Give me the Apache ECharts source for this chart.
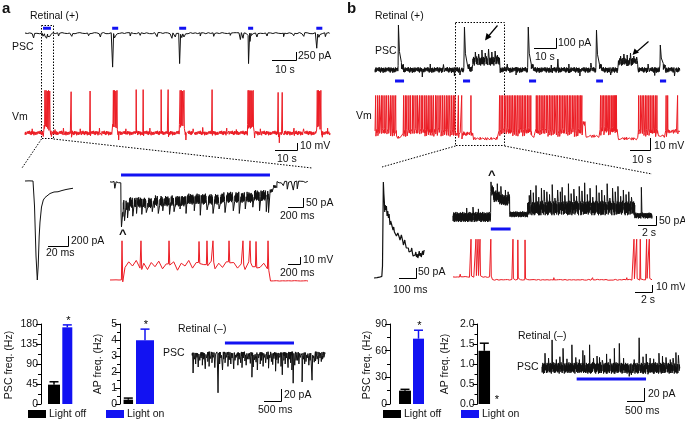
<!DOCTYPE html>
<html><head><meta charset="utf-8">
<script src="https://cdn.jsdelivr.net/npm/echarts@6/dist/echarts.min.js"></script>
<style>html,body{margin:0;padding:0;background:#fff}#c{width:685px;height:421px}</style>
</head><body><div id="c"></div><script>
// ---------------- DATA ----------------
// bar charts (Hz): [Light off, Light on]
const barCats = ['Light off', 'Light on'];
const pscFreqA = [43.5, 172.5], pscSemA = [6.5, 5.5];
const apFreqA = [0.27, 3.98], apSemA = [0.1, 0.7];
const pscFreqB = [15, 73.5], pscSemB = [1.5, 9.5];
const apFreqB = [1.33, 0], apSemB = [0.19, 0];

// shared noise texture (hand typed)
const J = [0.2,-0.8,0.5,-0.3,0.9,-0.6,0.1,-1,0.7,-0.2,0.4,-0.9,0.8,-0.4,0.3,-0.7,1,-0.5,0.6,-0.1,0.2,-0.9,0.5,-0.6,0.9,-0.3,0.1,-0.8,0.7,-0.5,0.4,-1,0.6,-0.2,0.8,-0.7,0.3];

// panel a, top PSC (s, pA): segments [t0,t1,level,noise], events [t,peak]
const lightA1 = [[7.5,10.8],[36.3,38.8],[64.2,67.1],[92.9,95.0],[121.3,123.8]];
const segA1 = [[0,7.5,0,18],[7.5,10.8,-60,45],[10.8,36.3,0,18],[36.3,38.8,-50,45],[38.8,64.2,0,18],[64.2,67.1,-40,40],[67.1,92.9,0,18],[92.9,95,-40,40],[95,121.3,0,18],[121.3,123.8,-40,40],[123.8,127,0,18]];
const evA1 = [[3.5,-150],[8.9,-160],[9.6,-120],[10.2,-110],[13.9,-90],[19.4,-100],[26.4,-80],[31.3,-120],[36.4,-1060],[37.2,-150],[37.9,-130],[43.75,-90],[47.9,-70],[54.9,-110],[61.1,-160],[62.5,-120],[64.3,-950],[65.2,-140],[66.1,-120],[72.9,-90],[78.5,-100],[85.4,-70],[89.6,-200],[90.7,-160],[93.0,-950],[93.6,-260],[94.3,-130],[96.5,-120],[100.7,-90],[107.6,-110],[111.8,-80],[116,-100],[120.1,-70],[121.4,-470],[122.3,-130],[125,-110]];
// panel a, top Vm (s, mV)
const segA2 = [[0,7.9,-60,3.2],[7.9,10.6,-50,3.5],[10.6,36.5,-60,3.2],[36.5,38.6,-50,3.5],[38.6,64.3,-60,3.2],[64.3,66.5,-50,3.5],[66.5,92.7,-60,3.2],[92.7,95.3,-50,3.5],[95.3,121.5,-60,3.2],[121.5,123.5,-50,3.5],[123.5,127,-60,3.2]];
const evA2 = [[8.3,1],[8.8,1],[9.3,0],[9.8,1],[10.3,0],[19.2,-1],[27.1,0],[36.8,1],[37.3,1],[37.8,0],[38.3,1],[46.3,2],[49.2,2],[56.7,2],[59.6,2],[64.6,1],[65.1,1],[65.6,0],[66.2,1],[77.9,2],[92.9,1],[93.3,1],[93.7,0],[94.1,1],[94.5,0],[95.0,1],[105.4,-2],[107.1,-2],[121.7,1],[122.2,1],[122.7,0],[123.2,1],
  [3,-54],[7.6,-65],[11,-65],[12.5,-55],[16,-53],[23,-54],[31,-53],[39,-70],[42,-54],[52,-53],[67,-70],[70,-54],[74,-52],[84,-53],[88,-55],[95.6,-67],[98,-54],[105.9,-74],[112,-53],[116,-54],[123.8,-66],[126,-53]];
// panel a, inset single PSC (ms, pA)
const psc1A = [[0,0],[2,-8],[4,3],[6,-5],[8,0],[9.5,-500],[11,-1500],[12.3,-1980],[13.2,-1700],[14.2,-1100],[15,-820],[16.5,-520],[18.3,-380],[20,-330],[22,-290],[25,-250],[27,-235],[29,-220],[31,-240],[33,-215],[35,-205],[37,-190],[39,-185],[41,-170],[43,-160],[45,-155],[46,-140],[48,-145]];
// panel a, inset PSC during light (ms, pA)
const lightAR = [[147,2133]];
const segARp = [[0,147,0,5],[147,175,-200,40],[175,260,-130,32],[260,600,-115,30],[600,1000,-105,30],[1000,1500,-95,30],[1500,1900,-85,30],[1900,2133,-75,30],[2133,2180,-50,10],[2180,2227,-25,8],[2227,2640,0,5]];
const evARp = [[60,-35],[149,-250],[190,-215],[230,-200],[300,-190],[350,-175],[420,-180],[480,-170],[560,-165],[640,-175],[700,-160],[790,-180],[850,-165],[930,-150],[1010,-175],[1120,-160],[1200,-185],[1290,-155],[1370,-175],[1450,-150],[1530,-170],[1640,-160],[1720,-175],[1800,-150],[1900,-140],[1990,-160],[2080,-165],[2110,-170],[2307,-20],[2360,-40],[2440,-45],[2493,-38]];
// panel a, inset Vm (ms, mV)
const vmOscA = [-52,-44,-50,-42,-53,-46,-55,-45,-51,-43,-54,-47,-52,-44,-56,-46,-50,-42,-53,-45,-55,-48,-51,-43,-54,-46,-52,-44,-50,-45,-53,-47,-55,-44,-51,-43,-52,-46,-54];
const spkAR = [[160,-14],[413,-14],[787,-14],[1187,-15],[1293,-14],[1373,-14],[1587,-14],[1773,-14],[1867,-14],[1947,-15],[2107,-14]];
// panel a, Retinal (-) PSC (s, pA)
const lightAB = [[1.03,3.19]];
const evAB = [[0.03,-35],[0.07,-12],[0.11,-20],[0.15,-9],[0.19,-25],[0.24,-14],[0.28,-10],[0.32,-22],[0.36,-12],[0.41,-28],[0.45,-10],[0.49,-16],[0.53,-24],[0.58,-11],[0.62,-18],[0.66,-9],[0.71,-26],[0.81,-68],[0.86,-20],[0.9,-10],[0.95,-30],[0.99,-12],[1.03,-18],[1.08,-9],[1.12,-24],[1.16,-13],[1.21,-20],[1.25,-10],[1.3,-28],[1.34,-14],[1.38,-9],[1.43,-22],[1.47,-12],[1.52,-18],[1.56,-26],[1.6,-10],[1.65,-15],[1.69,-22],[1.74,-12],[1.78,-12],[1.82,-19],[1.87,-42],[1.91,-25],[1.95,-13],[2.0,-17],[2.04,-30],[2.08,-10],[2.13,-20],[2.17,-14],[2.22,-24],[2.26,-9],[2.3,-18],[2.35,-12],[2.39,-27],[2.43,-10],[2.48,-16],[2.52,-21],[2.56,-11],[2.61,-32],[2.65,-13],[2.69,-19],[2.74,-9],[2.78,-24],[2.82,-38],[2.87,-14],[2.91,-20],[2.95,-10],[3.0,-26],[3.04,-12],[3.08,-18],[3.12,-30],[3.16,-52],[3.21,-22],[3.25,-14],[3.3,-14],[3.34,-20],[3.39,-9],[3.44,-50],[3.48,-12],[3.52,-20],[3.56,-16],[3.6,-10],[3.65,-22],[3.69,-14],[3.75,-47],[3.78,-10],[3.82,-17],[3.86,-15],[3.91,-12],[3.95,-20],[4.0,-10],[4.04,-16],[4.08,-12],[4.12,-9]];
// panel b, top PSC (s, pA)
const lightB1 = [[9.1,13.2],[40,43.2],[70,73.2],[100.5,103.6],[129.5,132.3]];
const segB1 = [[0,10.5,0,28],[10.5,13,35,28],[13,40.5,0,28],[40.5,43,35,28],[43,44.4,10,28],[44.4,56.8,90,45],[56.8,69.5,0,28],[69.5,72,35,28],[72,100.5,0,28],[100.5,103,35,28],[103,110.5,0,28],[110.5,119.5,80,40],[119.5,129.5,0,28],[129.5,132,30,28],[132,138.6,0,28]];
const evB1 = [[10.5,450,0],[40.5,430,0],[69.5,430,0],[100.5,400,0],[129.5,250,0],
  [45.5,180,1],[47,160,1],[48.5,200,1],[50,170,1],[51.5,210,1],[53,180,1],[54.5,190,1],[55.5,150,1],[111.5,140,1],[113,160,1],[114.5,150,1],[116,170,1],[117.5,140,1],[118.8,130,1],
  [21.4,-70,1],[25,60,1],[31,55,1],[36,-60,1],[38.5,-50,1],[60,60,1],[64,-50,1],[80,50,1],[83,110,1],[88,60,1],[93,-60,1],[98,70,1],[107,-50,1],[124,60,1],[127,-55,1],[136,-60,1]];
// panel b, top Vm (s, mV)
const segB2 = [[0,9.8,-47,1.8],[9.8,12.8,-52,1.2],[12.8,36.5,-47,1.8],[36.5,44.8,-49,1.8],[44.8,56.4,-53,1.2],[56.4,71.2,-47,1.8],[71.2,73,-51,1.2],[73,94.2,-47,1.8],[94.2,95.8,-40,2],[95.8,102.3,-51,1.2],[102.3,110.5,-46,1.8],[110.5,119.6,-53,1.2],[119.6,128.8,-47,1.8],[128.8,132.1,-51,1.2],[132.1,138.6,-47,1.8]];
const spkB2 = [0.3,1.2,2.0,2.9,3.6,4.5,5.3,6.1,7.0,7.8,8.6,9.4,
  13.0,13.8,14.5,15.4,16.1,17.0,17.7,18.6,19.3,20.2,21.0,21.7,22.6,23.3,24.2,25.0,25.8,26.6,27.5,28.2,29.1,29.9,30.7,31.5,32.4,33.2,34.0,34.8,35.6,36.3,
  37.9,39.4,43.6,
  56.6,57.3,58.0,58.8,59.5,60.3,61.0,61.8,62.5,63.3,64.0,64.8,65.5,66.3,67.0,67.8,68.5,69.3,70.0,70.8,
  73.3,74.0,74.8,75.5,76.3,77.0,77.8,78.5,79.3,80.0,80.8,81.5,82.3,83.0,83.8,84.5,85.3,86.0,86.8,87.5,88.3,89.0,89.8,90.5,91.3,92.0,92.7,93.4,94.0,
  102.5,103.2,103.9,104.6,105.3,106.0,106.7,107.4,108.1,108.6,109.0,109.4,109.7,
  119.8,120.6,121.4,122.1,122.9,123.6,124.4,125.1,125.9,126.6,127.4,128.1,
  132.3,133.0,137.5];
const spkPeakB2 = -17;
// panel b, inset single PSC (ms, pA)
const psc1B = [[0,0],[10,8],[18,2],[25,10],[32,4],[40,12],[46,8],[50,60],[55,480],[58,420],[61,380],[63,330],[66,365],[70,340],[73,360],[77,310],[81,335],[85,300],[89,320],[94,265],[98,285],[103,270],[107,280],[112,240],[116,255],[120,230],[124,225],[128,240],[132,210],[136,200],[140,225],[144,235],[148,205],[153,190],[157,200],[161,215],[165,210],[169,185],[173,165],[177,175],[181,190],[185,170],[190,150],[194,160],[198,140],[202,150],[206,130],[210,140],[214,120],[218,135],[222,150],[226,125],[230,110],[234,120],[238,100],[242,115],[246,130],[250,105],[254,120],[258,100],[262,115],[266,135],[270,110],[274,125],[278,105],[282,120],[286,135],[290,115],[295,140]];
// panel b, inset PSC (s, pA)
const lightBR = [[4.2,6.4]];
const segBRp = [[0,4.2,0,28],[4.2,4.5,150,30],[4.5,5.2,115,32],[5.2,6.3,95,30],[6.3,8.3,15,16],[8.3,20.2,50,40],[20.2,22.1,8,16]];
const evBRp = [[1.5,50],[2.2,55],[2.8,45],[4.2,195],[4.9,185],[5.3,170],[5.8,150],[6.1,140],
  [8.45,120],[8.6,150],[8.9,135],[9.2,175],[9.5,110],[9.8,160],[10.1,150],[10.4,140],[10.7,125],[11,180],[11.3,105],[11.6,150],[11.9,140],[12.1,165],[12.4,120],[12.8,185],[13.1,130],[13.4,155],[13.7,115],[14,170],[14.3,145],[14.6,190],[14.9,125],[15.2,160],[15.5,110],[15.9,175],[16.2,135],[16.5,150],[16.8,120],[17.1,185],[17.4,105],[17.7,160],[18.0,140],[18.3,170],[18.6,115],[18.9,150],[19.2,125],[19.5,140],[19.8,110],[20.9,165]];
// panel b, inset Vm (s, mV)
const segBRv = [[0,4.3,-60,0.6],[4.3,22.1,-64,0.6]];
const evBRv = [[2.0,-6],[2.55,-6],[2.78,-6],[3.0,-6],[4.2,-6],[6.66,-6],[7.2,-7],[8.0,-7],[20.1,-6],[20.4,-6],[20.8,-6],[21.5,-6],[21.8,-6],[0.8,-56],[1.3,-58],[11.2,-61],[13,-62],[15.5,-61],[17.4,-62],[19.3,-61]];
// panel b, Retinal (-) PSC (s, pA)
const lightBB = [[0.98,2.94]];
const evBB = [[0.08,21],[0.18,14],[0.28,40],[0.4,12],[0.5,16],[0.59,28],[0.7,13],[0.84,33],[0.95,15],[1.05,12],[1.15,25],[1.2,18],[1.34,33],[1.45,14],[1.55,17],[1.62,15],[1.7,11],[1.82,20],[1.92,13],[2.04,28],[2.18,35],[2.3,14],[2.46,-12],[2.52,-10],[2.6,12],[2.74,43],[2.85,16],[2.94,20],[2.99,-9],[3.05,14],[3.15,13],[3.3,21],[3.4,17],[3.5,15],[3.62,12],[3.7,14],[3.78,22],[3.85,18]];

// ---------------- BUILDERS ----------------
function noiseBase(segs, step) {
  const out = []; let k = 0;
  for (const [t0, t1, lv, amp] of segs) {
    const n = Math.max(1, Math.round((t1 - t0) / step));
    for (let i = 0; i < n; i++) out.push([t0 + i * (t1 - t0) / n, lv + amp * J[k++ % J.length]]);
  }
  const L = segs[segs.length - 1]; out.push([L[1], L[2]]);
  return out;
}
function withEvents(base, events, shapes) {
  const lvAt = t => { let v = base[0][1]; for (const p of base) { if (p[0] <= t) v = p[1]; else break; } return v; };
  const wins = events.map(e => { const s = shapes[e[2] || 0]; return [e[0] + s[0][0], e[0] + s[s.length - 1][0]]; });
  const pts = base.filter(p => !wins.some(w => p[0] >= w[0] && p[0] <= w[1]));
  events.forEach(e => { const s = shapes[e[2] || 0]; const lv = lvAt(e[0]); s.forEach(([dt, f]) => pts.push([e[0] + dt, lv + f * (e[1] - lv)])); });
  pts.sort((a, b) => a[0] - b[0]);
  return pts;
}

const trA1 = withEvents(noiseBase(segA1, 0.2), evA1, [[[0,0],[0.08,1],[0.5,0]]]);
const trA2 = withEvents(noiseBase(segA2, 0.12), evA2, [[[-0.1,0],[0,1],[0.15,-0.05],[0.35,0]]]);
const trARp = withEvents(noiseBase(segARp, 3), evARp, [[[0,0],[4,1],[22,0]]]);
const baseARv = noiseBase([[0,200,-70,0.3]], 20).slice(0, -1)
  .concat(vmOscA.map((v, i) => [200 + i * 50, v]))
  .concat(noiseBase([[2140,2640,-71.5,0.6]], 20));
const trARv = withEvents(baseARv, spkAR, [[[-8,0],[0,1],[10,-0.05],[20,0]]]);
const trAB = withEvents(noiseBase([[0,4.16,-3,3.5]], 0.01), evAB, [[[0,0],[0.004,1],[0.025,0]]]);
const trB1 = withEvents(noiseBase(segB1, 0.12), evB1, [[[0,0],[0.15,1],[0.6,0.35],[1.5,0.08]], [[0,0],[0.1,1],[0.4,0]]]);
const trB2 = withEvents(noiseBase(segB2, 0.2), spkB2.map(t => [t, spkPeakB2]), [[[-0.12,0.05],[0,1],[0.12,-0.08],[0.3,0]]]);
const trBRp = withEvents(noiseBase(segBRp, 0.02), evBRp, [[[0,0],[0.02,1],[0.09,0]]]);
const trBRv = withEvents(noiseBase(segBRv, 0.08), evBRv, [[[-0.03,0],[0,1],[0.05,0.03],[0.12,0]]]);
const trBB = withEvents(noiseBase([[0,3.9,0,8]], 0.006), evBB, [[[0,0],[0.005,1],[0.02,0]]]);

// ---------------- LAYOUT ----------------
const BLUE = '#1212f2', RED = '#ec1c24', BLK = '#000';
const FF = '"Liberation Sans", Arial, sans-serif';
const traceGrids = [
  // [left, top, width, height, xmin, xmax, ymin, ymax]
  [25, 20, 305, 50, 0, 127, -1150, 410],      // 0 A1
  [25, 85, 305, 60, 0, 127, -77.1, 8.6],      // 1 A2
  [25, 175, 50, 110, 0, 50, -2080, 120],      // 2 AL
  [110, 170, 198, 60, 0, 2640, -266.9, 66.7], // 3 ARp
  [110, 235, 198, 50, 0, 2640, -77.1, -5.7],  // 4 ARv
  [192, 340, 133, 57, 0, 4.16, -75, 20],      // 5 AB
  [375, 20, 305, 65, 0, 138.6, -150, 500],    // 6 B1
  [375, 85, 305, 60, 0, 138.6, -58.3, -8.3],  // 7 B2
  [374, 178, 51, 105, 0, 300, -25, 500],      // 8 BL
  [453, 172, 199, 60, 0, 22.1, -83.4, 250],   // 9 BRp
  [453, 235, 199, 55, 0, 22.1, -78.6, 0],     // 10 BRv
  [542, 335, 138, 50, 0, 3.9, -24.3, 47]      // 11 BB
];
const barDefs = [
  {ax: 41, c: [54, 67.3], w: [12, 10], max: 180, iv: 45, vals: pscFreqA, sem: pscSemA, star: [0,1], fmt: v => v},
  {ax: 120, c: [128.3, 145], w: [9.5, 18], max: 5, iv: 1, vals: apFreqA, sem: apSemA, star: [0,1], fmt: v => v},
  {ax: 390, c: [405, 418.5], w: [12, 11], max: 90, iv: 30, vals: pscFreqB, sem: pscSemB, star: [0,1], fmt: v => v},
  {ax: 477.5, c: [484.3, 496], w: [11.5, 11], max: 2, iv: 0.5, vals: apFreqB, sem: apSemB, star: [0,1], fmt: v => v.toFixed(1)}
];

const grid = [], xAxis = [], yAxis = [], series = [];
traceGrids.forEach((g, i) => {
  grid.push({left: g[0], top: g[1], width: g[2], height: g[3]});
  xAxis.push({type: 'value', gridIndex: i, min: g[4], max: g[5], show: false});
  yAxis.push({type: 'value', gridIndex: i, min: g[6], max: g[7], show: false});
});
function addLine(gi, data, color, width, z) {
  series.push({type: 'line', xAxisIndex: gi, yAxisIndex: gi, data, symbol: 'none', showSymbol: false,
    lineStyle: {color, width: width || 1}, silent: true, animation: false, z: z || 2});
}
function addLight(gi, ivs, y) { ivs.forEach(iv => addLine(gi, [[iv[0], y], [iv[1], y]], BLUE, 3, 5)); }

addLine(0, trA1, '#111', 1); addLight(0, lightA1, 156);
addLine(1, trA2, RED, 1);
addLine(2, psc1A, '#111', 1);
addLine(3, trARp, '#111', 1); addLight(3, lightAR, 39);
addLine(4, trARv, RED, 1);
addLine(5, trAB, '#111', 1); addLight(5, lightAB, 15);
addLine(6, trB1, '#111', 1); addLight(6, lightB1, -110);
addLine(7, trB2, RED, 1);
addLine(8, psc1B, '#111', 1.2);
addLine(9, trBRp, '#111', 1); addLight(9, lightBR, -66.7);
addLine(10, trBRv, RED, 1);
addLine(11, trBB, '#111', 1); addLight(11, lightBB, -15.7);

barDefs.forEach((b, k) => {
  const gi = traceGrids.length + k;
  const W = 2 * (b.c[1] - b.c[0]);
  const left = b.c[0] - W / 4;
  grid.push({left, top: 324, width: W, height: 80});
  xAxis.push({type: 'category', gridIndex: gi, data: barCats, show: false});
  yAxis.push({type: 'value', gridIndex: gi, min: 0, max: b.max, interval: b.iv, offset: left - b.ax,
    axisLine: {show: true, onZero: false, lineStyle: {color: '#000', width: 1}},
    axisTick: {show: true, length: 5, lineStyle: {color: '#000', width: 1}},
    minorTick: {show: true, splitNumber: 2, length: 3, lineStyle: {color: '#000', width: 1}},
    splitLine: {show: false}, minorSplitLine: {show: false},
    axisLabel: {fontSize: 10.5, color: '#111', margin: 3, fontFamily: FF, formatter: b.fmt}});
  const colors = [BLK, BLUE];
  series.push({type: 'custom', xAxisIndex: gi, yAxisIndex: gi, silent: true, animation: false,
    data: b.vals.map((v, i) => [i, v]),
    renderItem: (params, api) => {
      const i = params.dataIndex, v = api.value(1);
      const p0 = api.coord([i, 0]), p1 = api.coord([i, v]), e = api.coord([i, v + b.sem[i]]);
      const w = b.w[i], cx = p0[0], cap = Math.min(4.5, w / 2);
      const ch = [{type: 'rect', shape: {x: cx - w / 2, y: p1[1], width: w, height: p0[1] - p1[1]}, style: {fill: colors[i]}}];
      if (b.sem[i] > 0) {
        ch.push({type: 'line', shape: {x1: cx, y1: p1[1], x2: cx, y2: e[1]}, style: {stroke: colors[i], lineWidth: 1.5}});
        ch.push({type: 'line', shape: {x1: cx - cap, y1: e[1], x2: cx + cap, y2: e[1]}, style: {stroke: colors[i], lineWidth: 1.5}});
      }
      if (b.star[i]) ch.push({type: 'text', style: {text: '*', x: cx + 1, y: e[1] - 4, textAlign: 'center', textVerticalAlign: 'middle', font: '11px ' + FF, fill: '#000'}});
      return {type: 'group', children: ch};
    }});
});

// ---------------- ANNOTATIONS ----------------
const gr = [];
function T(text, x, y, o) {
  o = o || {};
  gr.push({type: 'text', x, y, rotation: o.rot || 0, silent: true,
    style: {text, fill: '#111', font: (o.font || '10.5px') + ' ' + FF, textAlign: o.align || 'left', textVerticalAlign: 'middle'}});
}
function P(points, dash, color, w) {
  gr.push({type: 'polyline', silent: true, shape: {points}, style: {stroke: color || '#000', lineWidth: w || 1, fill: null, lineDash: dash || null}});
}
function TRI(points) { gr.push({type: 'polygon', silent: true, shape: {points}, style: {fill: '#000'}}); }
function SB(xv, y0, y1, x0) { P([[x0, y1 + 0.5], [xv + 0.5, y1 + 0.5], [xv + 0.5, y0]]); }
function R(x, y, w, h, c) { gr.push({type: 'rect', silent: true, shape: {x, y, width: w, height: h}, style: {fill: c}}); }

// panel a
T('a', 2, 9, {font: 'bold 15px'});
T('Retinal (+)', 30, 16);
T('PSC', 12, 47);
SB(296, 52, 60, 272); T('250 pA', 298, 56); T('10 s', 275, 70);
T('Vm', 12, 117);
SB(297, 143, 150, 275); T('10 mV', 300, 146); T('10 s', 277, 159);
P([[41.5, 25.5], [53.5, 25.5], [53.5, 138.5], [41.5, 138.5], [41.5, 25.5]], [1.5, 1.5]);
P([[41.5, 139], [22, 168]], [1.5, 1.5]);
P([[53.5, 139], [312, 168]], [1.5, 1.5]);
SB(68, 236, 246, 48); T('200 pA', 71, 241); T('20 ms', 46, 253);
SB(303, 198, 207, 288); T('50 pA', 306, 203); T('200 ms', 280, 216);
T('^', 119, 234, {font: 'bold 13px'});
SB(300, 257, 264, 288); T('10 mV', 303, 260); T('200 ms', 280, 273);
T('PSC freq. (Hz)', 9, 365, {rot: Math.PI / 2, align: 'center'});
T('AP freq. (Hz)', 98, 364, {rot: Math.PI / 2, align: 'center'});
R(28, 410, 18, 8, BLK); T('Light off', 49, 414);
R(106, 410, 18, 8, BLUE); T('Light on', 127, 414);
T('Retinal (–)', 178, 329);
T('PSC', 163, 353);
SB(281, 389, 401, 264); T('20 pA', 284, 395); T('500 ms', 258, 410);
// panel b
T('b', 347, 9, {font: 'bold 15px'});
T('Retinal (+)', 375, 16);
T('PSC', 375, 51);
SB(556, 38, 48, 534); T('100 pA', 558, 43); T('10 s', 535, 57);
T('Vm', 356, 116);
SB(650, 138, 150, 630); T('10 mV', 654, 146); T('10 s', 632, 160);
P([[455.5, 22.5], [504.5, 22.5], [504.5, 145.5], [455.5, 145.5], [455.5, 22.5]], [1.5, 1.5]);
P([[455.5, 146], [382, 167]], [1.5, 1.5]);
P([[504.5, 146], [652, 174]], [1.5, 1.5]);
P([[497.5, 25.5], [489, 35.5]], null, '#000', 1.2); TRI([[485, 40.5], [486.5, 33], [491.5, 37]]);
P([[648.5, 41.5], [637, 51.5]], null, '#000', 1.2); TRI([[632.5, 55], [634.5, 48.5], [639, 52.5]]);
SB(416, 268, 278, 399); T('50 pA', 418, 272); T('100 ms', 393, 290);
T('^', 488, 175, {font: 'bold 13px'});
SB(656, 216, 225, 638); T('50 pA', 659, 221); T('2 s', 642, 233);
SB(652, 285, 292, 635); T('10 mV', 656, 287); T('2 s', 641, 300);
T('PSC freq. (Hz)', 367, 365, {rot: Math.PI / 2, align: 'center'});
T('AP freq. (Hz)', 445, 364, {rot: Math.PI / 2, align: 'center'});
R(383, 410, 18, 8, BLK); T('Light off', 404, 414);
R(461, 410, 18, 8, BLUE); T('Light on', 482, 414);
T('Retinal (–)', 518, 336);
T('PSC', 517, 367);
SB(644, 388, 401, 627); T('20 pA', 648, 394); T('500 ms', 625, 411);

const chart = echarts.init(document.getElementById('c'), null, {renderer: 'canvas', width: 685, height: 421});
chart.setOption({animation: false, backgroundColor: '#fff', grid, xAxis, yAxis, series, graphic: gr});
</script></body></html>
